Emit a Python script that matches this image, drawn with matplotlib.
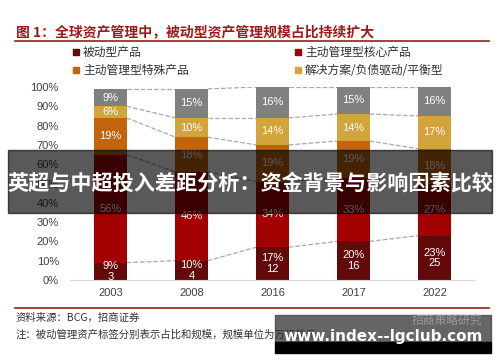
import matplotlib.pyplot as plt
from matplotlib.patches import Rectangle
from matplotlib.lines import Line2D

plt.rcParams['font.family'] = ['Noto Sans CJK SC', 'DejaVu Sans']

# data
years = ['2003', '2008', '2016', '2017', '2022']
passive = [9, 10, 17, 20, 23]
passive_size = [3, 4, 12, 16, 25]
core = [56, 46, 34, 33, 27]
special = [19, 18, 19, 19, 18]
solutions = [6, 10, 14, 14, 17]
other = [9, 15, 16, 15, 16]

series = [passive, core, special, solutions, other]
colors = ['#620A0A', '#A30000', '#C2640C', '#D4A43C', '#808080']
legend_names = ['被动型产品', '主动管理型核心产品', '主动管理型特殊产品', '解决方案/负债驱动/平衡型']

W, H = 500, 362


def fx(x):
    return x / W


def fy(y):
    return 1 - y / H


fig = plt.figure(figsize=(5, 3.62), dpi=100)
ax = fig.add_axes([fx(70), fy(280), fx(475) - fx(70), fy(87) - fy(280)])

x = list(range(len(years)))
bw = 0.4
bottoms = [0] * len(years)
tops_all = []
for vals, c in zip(series, colors):
    ax.bar(x, vals, bw, bottom=bottoms, color=c, zorder=2)
    for i, v in enumerate(vals):
        yc = bottoms[i] + v / 2
        if vals is passive:
            txt = '%d%%\n%d' % (v, passive_size[i])
            ax.text(i, yc, txt, ha='center', va='center', color='white',
                    fontsize=8, family='Liberation Sans', linespacing=1.05, zorder=3)
        else:
            ax.text(i, yc, '%d%%' % v, ha='center', va='center', color='white',
                    fontsize=8, family='Liberation Sans', zorder=3)
    bottoms = [b + v for b, v in zip(bottoms, vals)]
    tops_all.append(list(bottoms))

# dashed connectors between segment boundaries
for tops in tops_all:
    for i in range(len(years) - 1):
        ax.plot([i + bw / 2, i + 1 - bw / 2], [min(tops[i], 100), min(tops[i + 1], 100)],
                ls='--', color='#A8A8A8', lw=0.9, zorder=1)

ax.set_xlim(-0.5, 4.5)
ax.set_ylim(0, 100)
ax.set_xticks(x)
ax.set_xticklabels(years, family='Liberation Sans', fontsize=8, color='#404040')
ax.set_yticks(range(0, 101, 10))
ax.set_yticklabels(['%d%%' % v for v in range(0, 101, 10)], family='Liberation Sans',
                   fontsize=8, color='#404040')
ax.tick_params(length=0, pad=8)
ax.tick_params(axis='x', pad=6)
for s in ['top', 'right', 'left']:
    ax.spines[s].set_visible(False)
ax.spines['bottom'].set_color('#D9D9D9')

# title and rules
fig.text(fx(16), fy(32), '图 1：全球资产管理中，被动型资产管理规模占比持续扩大', fontsize=10,
         color='#9B1B1B', fontweight='bold', va='center')
fig.add_artist(Line2D([fx(15), fx(489)], [fy(41), fy(41)], color='#9B1B1B', lw=1.2))
fig.add_artist(Line2D([fx(15), fx(489)], [fy(308), fy(308)], color='#9B1B1B', lw=1.2))

# legend
leg_pos = [(73, 52), (295, 52), (73, 70), (295, 70)]
for (lx, ly), name, c in zip(leg_pos, legend_names, colors):
    fig.add_artist(Rectangle((fx(lx), fy(ly + 3)), 6 / W, 6 / H, color=c))
    fig.text(fx(lx + 10), fy(ly), name, fontsize=8.5, color='#333333', va='center')

# source notes
fig.text(fx(16), fy(318), '资料来源：BCG，招商证券', fontsize=7.5, color='#333333', va='center')
fig.text(fx(16), fy(335), '注：被动管理资产标签分别表示占比和规模，规模单位为万亿美元',
         fontsize=7.5, color='#333333', va='center')

# overlay banner
fig.add_artist(Rectangle((fx(8), fy(213)), 484 / W, 63 / H, color='black', alpha=0.65))
fig.text(0.5, fy(183), '英超与中超投入差距分析：资金背景与影响因素比较', fontsize=15.2,
         color='white', fontweight='bold', ha='center', va='center')

# watermark box
fig.add_artist(Rectangle((fx(275), fy(342)), 216 / W, 27 / H, color='#4A4A4A', alpha=0.85))
fig.add_artist(Rectangle((fx(275), fy(353)), 216 / W, 11 / H, color='black'))
fig.text(fx(412), fy(320), '招商策略研究', fontsize=8.5, color='#9A9A9A', va='center')
fig.text(fx(383), fy(336), 'www.index--lgclub.com', fontsize=11, color='white',
         fontweight='bold', ha='center', va='center', family='DejaVu Sans')

fig.savefig('out.png', dpi=100)
